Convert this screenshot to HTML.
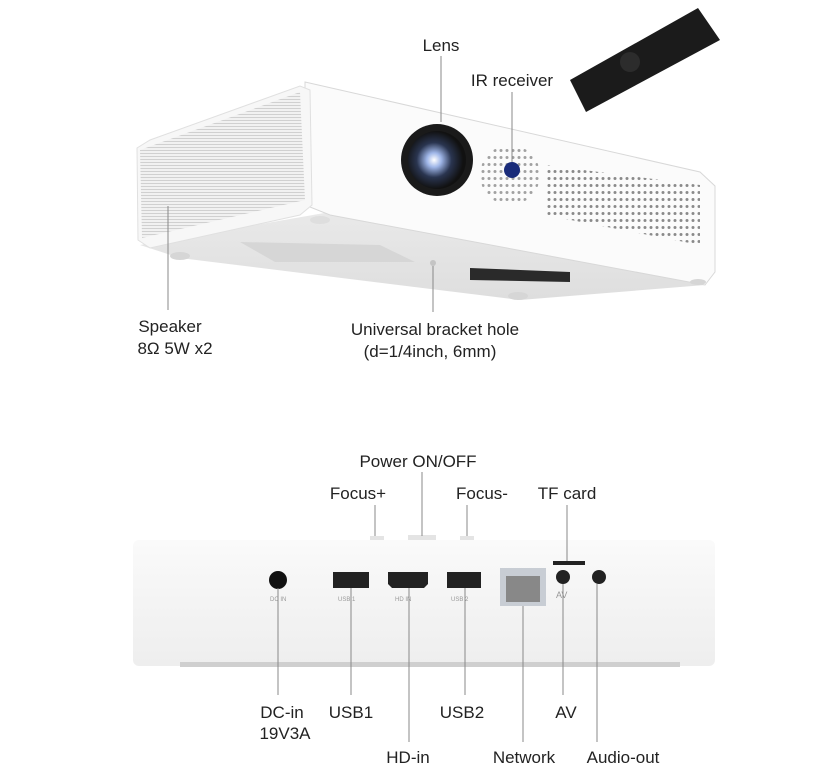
<!DOCTYPE html>
<html><head><meta charset="utf-8"><style>
html,body{margin:0;padding:0;background:#fff;width:826px;height:775px;overflow:hidden}
svg{display:block}
text{font-family:"Liberation Sans",sans-serif;font-size:17px;fill:#222}
</style></head><body>
<svg width="826" height="775" viewBox="0 0 826 775">
<defs>
<pattern id="grille" width="3" height="3" patternUnits="userSpaceOnUse"><rect width="3" height="3" fill="#f1f1f1"/><rect width="3" height="1" fill="#d0d0d0"/></pattern>
<pattern id="dots" width="6" height="7" patternUnits="userSpaceOnUse"><circle cx="3" cy="3.5" r="1.5" fill="#8a8a8a"/></pattern>
<radialGradient id="lens" cx="0.45" cy="0.5" r="0.5"><stop offset="0" stop-color="#fff"/><stop offset="0.25" stop-color="#9fb6e8"/><stop offset="0.6" stop-color="#2a3550"/><stop offset="1" stop-color="#111"/></radialGradient>
<linearGradient id="bot" x1="0" y1="0" x2="0" y2="1"><stop offset="0" stop-color="#e9e9e9"/><stop offset="1" stop-color="#dedede"/></linearGradient>
<linearGradient id="back" x1="0" y1="0" x2="0" y2="1"><stop offset="0" stop-color="#fafafa"/><stop offset="1" stop-color="#eeeeee"/></linearGradient>
</defs>

<!-- remote -->
<polygon points="570,80 698,8 720,40 586,112" fill="#1b1b1b"/>
<circle cx="630" cy="62" r="10" fill="#2c2c2c"/>

<!-- top projector -->
<polygon points="140,245 180,258 520,300 705,285 712,272 330,212" fill="url(#bot)"/>
<polygon points="305,82 700,172 715,186 715,272 705,285 330,215 305,205" fill="#fbfbfb" stroke="#d8d8d8"/>
<polygon points="137,148 150,140 300,86 310,90 312,205 300,215 150,248 138,240" fill="#f7f7f7" stroke="#e0e0e0"/>
<polygon points="140,150 300,92 305,200 142,238" fill="url(#grille)"/>
<polygon points="240,242 380,245 415,262 275,262" fill="#d6d6d6"/>
<polygon points="470,268 570,272 570,282 470,280" fill="#2a2a2a"/>
<ellipse cx="180" cy="256" rx="10" ry="4" fill="#d6d6d6"/>
<ellipse cx="320" cy="220" rx="10" ry="4" fill="#dedede"/>
<ellipse cx="518" cy="296" rx="10" ry="4" fill="#d6d6d6"/>
<ellipse cx="698" cy="282" rx="8" ry="3" fill="#d6d6d6"/>
<circle cx="433" cy="263" r="3" fill="#c4c4c4"/>
<polygon points="545,165 700,185 700,245 545,215" fill="url(#dots)"/>
<circle cx="510" cy="175" r="30" fill="url(#dots)" opacity="0.8"/>
<circle cx="437" cy="160" r="36" fill="#1a1a1a"/>
<circle cx="437" cy="160" r="29" fill="url(#lens)"/>
<circle cx="512" cy="170" r="8" fill="#1a2c7a"/>

<!-- top labels -->
<g stroke="#888" stroke-width="1">
<line x1="441" y1="56" x2="441" y2="122"/>
<line x1="512" y1="92" x2="512" y2="162"/>
<line x1="168" y1="206" x2="168" y2="310"/>
<line x1="433" y1="266" x2="433" y2="312"/>
</g>
<text x="441" y="51" text-anchor="middle">Lens</text>
<text x="512" y="86" text-anchor="middle">IR receiver</text>
<text x="170" y="332" text-anchor="middle">Speaker</text>
<text x="175" y="354" text-anchor="middle">8Ω 5W x2</text>
<text x="435" y="335" text-anchor="middle">Universal bracket hole</text>
<text x="430" y="357" text-anchor="middle">(d=1/4inch, 6mm)</text>

<!-- bottom projector -->
<rect x="370" y="536" width="14" height="4" fill="#e4e4e4"/>
<rect x="408" y="535" width="28" height="5" fill="#e4e4e4"/>
<rect x="460" y="536" width="14" height="4" fill="#e4e4e4"/>
<rect x="133" y="540" width="582" height="126" rx="6" fill="url(#back)"/>
<rect x="180" y="662" width="500" height="5" fill="#cfcfcf"/>
<circle cx="278" cy="580" r="9" fill="#111"/>
<rect x="333" y="572" width="36" height="16" fill="#222"/>
<path d="M388,572 H428 V584 L424,588 H392 L388,584 Z" fill="#222"/>
<rect x="447" y="572" width="34" height="16" fill="#222"/>
<rect x="500" y="568" width="46" height="38" fill="#c8cdd4"/>
<rect x="506" y="576" width="34" height="26" fill="#888"/>
<rect x="553" y="561" width="32" height="4" fill="#222"/>
<circle cx="563" cy="577" r="7" fill="#222"/>
<circle cx="599" cy="577" r="7" fill="#222"/>
<text x="270" y="601" style="font-size:6px;fill:#999">DC IN</text><text x="338" y="601" style="font-size:6px;fill:#999">USB 1</text><text x="395" y="601" style="font-size:6px;fill:#999">HD  IN</text><text x="451" y="601" style="font-size:6px;fill:#999">USB 2</text><text x="556" y="598" style="font-size:9px;fill:#999">AV</text>

<g stroke="#888" stroke-width="1">
<line x1="422" y1="472" x2="422" y2="536"/>
<line x1="375" y1="505" x2="375" y2="536"/>
<line x1="467" y1="505" x2="467" y2="536"/>
<line x1="567" y1="505" x2="567" y2="561"/>
<line x1="278" y1="588" x2="278" y2="695"/>
<line x1="351" y1="588" x2="351" y2="695"/>
<line x1="409" y1="588" x2="409" y2="742"/>
<line x1="465" y1="588" x2="465" y2="695"/>
<line x1="523" y1="606" x2="523" y2="742"/>
<line x1="563" y1="584" x2="563" y2="695"/>
<line x1="597" y1="584" x2="597" y2="742"/>
</g>
<text x="418" y="467" text-anchor="middle">Power ON/OFF</text>
<text x="358" y="499" text-anchor="middle">Focus+</text>
<text x="482" y="499" text-anchor="middle">Focus-</text>
<text x="567" y="499" text-anchor="middle">TF card</text>
<text x="282" y="718" text-anchor="middle">DC-in</text>
<text x="285" y="739" text-anchor="middle">19V3A</text>
<text x="351" y="718" text-anchor="middle">USB1</text>
<text x="462" y="718" text-anchor="middle">USB2</text>
<text x="566" y="718" text-anchor="middle">AV</text>
<text x="408" y="763" text-anchor="middle">HD-in</text>
<text x="524" y="763" text-anchor="middle">Network</text>
<text x="623" y="763" text-anchor="middle">Audio-out</text>
</svg>
</body></html>
